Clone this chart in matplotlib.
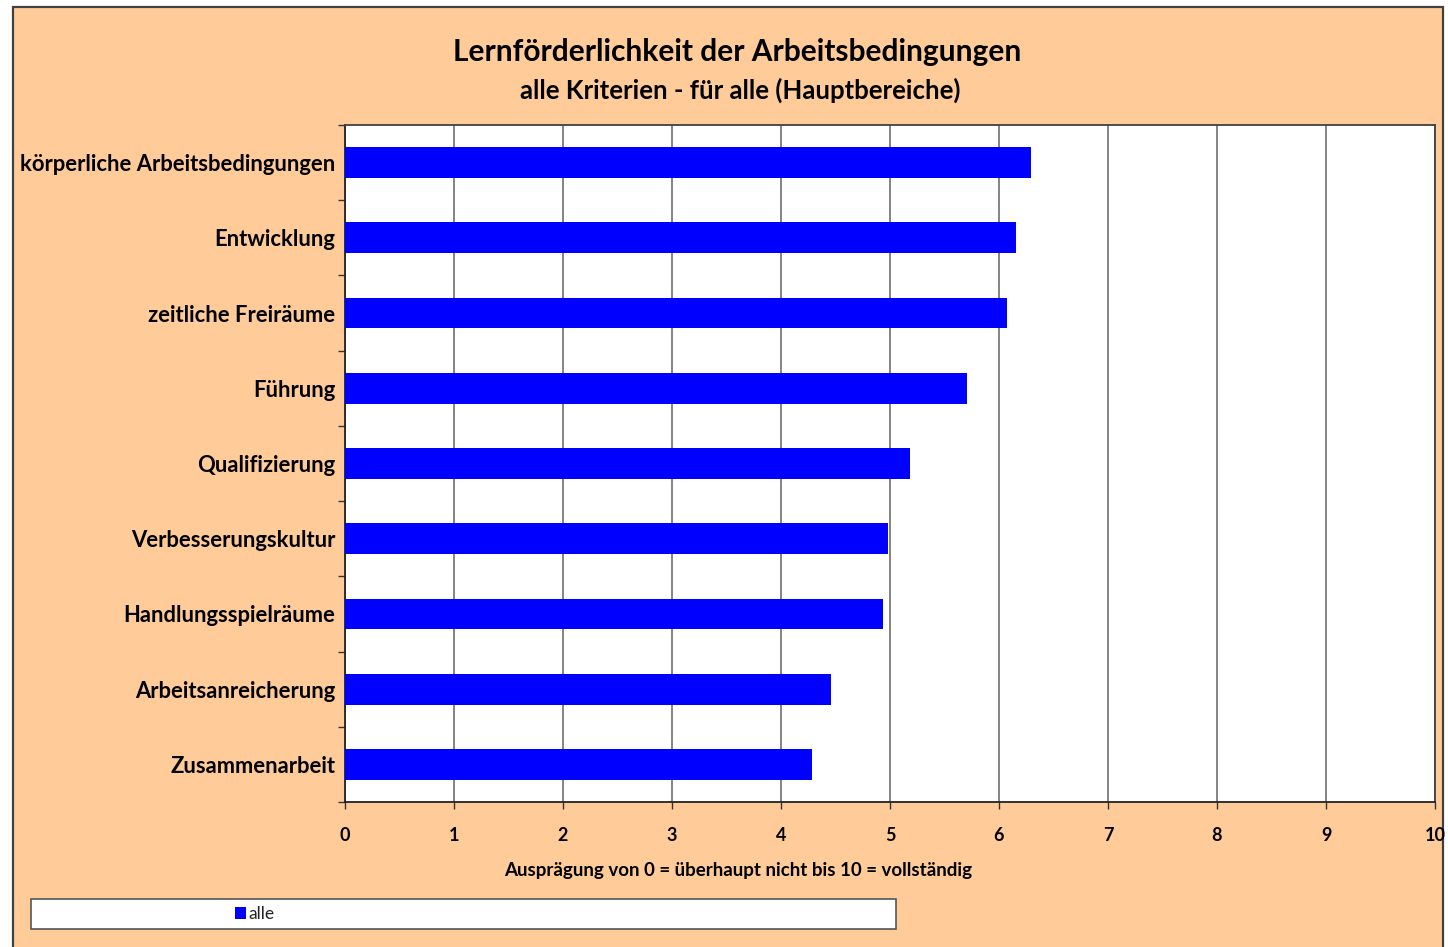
import matplotlib
matplotlib.use("Agg")
import matplotlib.pyplot as plt
from matplotlib.patches import Rectangle
from matplotlib.ticker import FixedLocator, NullFormatter

plt.rcParams["font.family"] = ["Lato", "DejaVu Sans"]

# data, top to bottom as in the chart
categories = [
    "körperliche Arbeitsbedingungen",
    "Entwicklung",
    "zeitliche Freiräume",
    "Führung",
    "Qualifizierung",
    "Verbesserungskultur",
    "Handlungsspielräume",
    "Arbeitsanreicherung",
    "Zusammenarbeit",
]
values = [6.29, 6.16, 6.07, 5.71, 5.18, 4.98, 4.94, 4.46, 4.28]
series_name = "alle"
x_ticks = list(range(0, 11))

title = "Lernförderlichkeit der Arbeitsbedingungen"
subtitle = "alle Kriterien - für alle (Hauptbereiche)"
x_label = "Ausprägung von 0 = überhaupt nicht bis 10 = vollständig"

W, H = 1448, 947
fig = plt.figure(figsize=(W / 100, H / 100), dpi=100)
fig.patch.set_facecolor("white")

# orange chart area with dark frame
fig.patches.append(Rectangle((13 / W, -0.01), (1443 - 13) / W, 1.01 - 7 / H,
                             transform=fig.transFigure, facecolor="#FFCC99",
                             edgecolor="#404040", linewidth=1.6, zorder=0))

ax = fig.add_axes([345 / W, 1 - 802 / H, (1435 - 345) / W, (802 - 125) / H])
ax.set_zorder(2)
ax.set_facecolor("white")

n = len(categories)
ypos = list(range(n))
bars = ax.barh(ypos, values, height=0.41, color="#0000FF", label=series_name, zorder=3)

ax.set_xlim(0, 10)
ax.set_ylim(n - 0.5, -0.5)
ax.set_xticks(x_ticks)
ax.set_xticklabels([str(t) for t in x_ticks], fontsize=13, fontweight="bold")
ax.xaxis.grid(True, color="#707070", linewidth=1.2, zorder=1)
ax.tick_params(axis="x", direction="out", length=5, width=1, color="#333333", pad=13)

# y: labels at bar centres, tick marks at category boundaries
ax.yaxis.set_major_locator(FixedLocator([i - 0.5 for i in range(n + 1)]))
ax.yaxis.set_major_formatter(NullFormatter())
ax.yaxis.set_minor_locator(FixedLocator(ypos))
ax.set_yticklabels(categories, minor=True, fontsize=15.8, fontweight="bold")
ax.tick_params(axis="y", which="minor", length=0, pad=7)
ax.tick_params(axis="y", which="major", direction="out", length=5, width=1, color="#333333")

for side in ["left", "bottom"]:
    ax.spines[side].set_color("#222222")
    ax.spines[side].set_linewidth(1.3)
for side in ["top", "right"]:
    ax.spines[side].set_color("#404040")
    ax.spines[side].set_linewidth(1.3)

ax.set_xlabel(x_label, fontsize=13.5, fontweight="bold")
ax.xaxis.set_label_coords((738 - 345) / (1435 - 345), -(870 - 802) / (802 - 125))
ax.xaxis.label.set_verticalalignment("center")

fig.text(737 / W, 1 - 52 / H, title, ha="center", va="center", fontsize=21.5, fontweight="bold")
fig.text(740 / W, 1 - 90 / H, subtitle, ha="center", va="center", fontsize=18.5, fontweight="bold")

# legend box
fig.patches.append(Rectangle((31 / W, 1 - 929 / H), (896 - 31) / W, 30 / H,
                             transform=fig.transFigure, facecolor="white",
                             edgecolor="#555555", linewidth=1.2, zorder=1))
leg = fig.legend(handles=[bars], labels=[series_name], loc="center left",
                 bbox_to_anchor=(219 / W, 1 - 914 / H), frameon=False,
                 handlelength=0.65, handleheight=0.65, handletextpad=0.15,
                 prop={"size": 12.5}, labelcolor="#222222")
leg.set_zorder(3)

fig.savefig("out.png", dpi=100)
